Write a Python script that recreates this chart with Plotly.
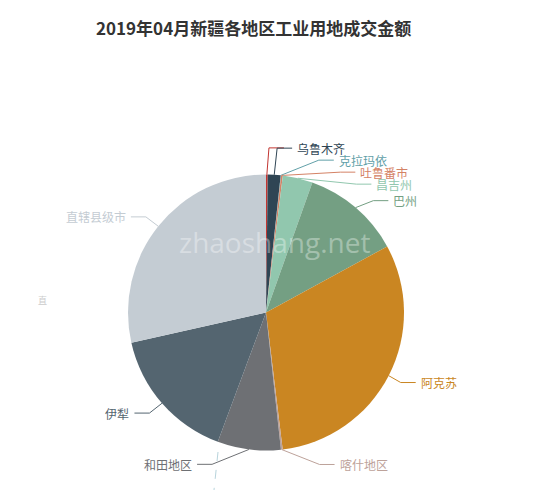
import math

import plotly.graph_objects as go

# 2019年04月 新疆各地区工业用地成交金额 (share of total)
title = "2019年04月新疆各地区工业用地成交金额"
regions = ["", "乌鲁木齐", "克拉玛依", "吐鲁番市", "昌吉州", "巴州",
           "阿克苏", "喀什地区", "和田地区", "伊犁", "直辖县级市"]
amounts = [0.2, 1.5, 0.05, 0.2, 3.5, 11.6, 31.0, 0.2, 7.4, 15.8, 28.5]
colors = ["#c23531", "#2f4554", "#61a0a8", "#d48265", "#91c7ae", "#749f83",
          "#ca8622", "#bda29a", "#6e7074", "#546570", "#c4ccd3"]

W, H = 550, 490
cx, cy, r = 266, 312.5, 138
len1, len2 = 15, 15
label_h = 12


def adjust_side(lst, side):
    # same idea as the echarts pie label overlap avoidance
    lst.sort(key=lambda d: d["y"])

    def shift_up(end, delta):
        for j in range(end, -1, -1):
            lst[j]["y"] -= delta
            if j > 0 and lst[j]["y"] > lst[j - 1]["y"] + lst[j - 1]["h"]:
                break

    def shift_down(start, end, delta):
        for j in range(start, end):
            lst[j]["y"] += delta
            if j > start and j + 1 < end and lst[j + 1]["y"] > lst[j]["y"] + lst[j]["h"]:
                shift_up(j, delta / 2)
                return
        shift_up(end - 1, delta / 2)

    def change_x(part, is_down):
        last_dx = float("inf") if is_down else 0
        for d in part:
            dy = abs(d["y"] - cy)
            if dy < r + len1:
                ddx = math.sqrt((r + len1 + len2) ** 2 - dy ** 2)
            else:
                ddx = abs(d["x"] - cx)
            if is_down and ddx >= last_dx:
                ddx = last_dx - 10
            if not is_down and ddx <= last_dx:
                ddx = last_dx + 10
            d["x"] = cx + ddx * side
            last_dx = ddx

    n = len(lst)
    last_y = 0
    for i in range(n):
        delta = lst[i]["y"] - last_y
        if delta < 0:
            shift_down(i, n, -delta)
        last_y = lst[i]["y"] + lst[i]["h"]
    if H - last_y < 0:
        shift_up(n - 1, last_y - H)

    change_x([d for d in lst if d["y"] < cy], False)
    change_x([d for d in lst if d["y"] >= cy], True)


def label_layout():
    total = sum(amounts)
    items = []
    acc = 0
    for i, v in enumerate(amounts):
        mid = (acc + v / 2) / total * 2 * math.pi
        acc += v
        dx, dy = math.sin(mid), -math.cos(mid)
        side = 1 if dx >= 0 else -1
        x2, y2 = cx + (r + len1) * dx, cy + (r + len1) * dy
        x3 = x2 + side * len2
        # an empty label takes no room
        h = label_h if regions[i] else 0
        items.append(dict(i=i, side=side, h=h,
                          x1=cx + r * dx, y1=cy + r * dy,
                          x=x3 + side * 5, y=y2, dist=x2 - x3))
    right = [d for d in items if d["side"] > 0]
    left = [d for d in items if d["side"] < 0]
    adjust_side(right, 1)
    adjust_side(left, -1)
    return sorted(items, key=lambda d: d["i"])


fig = go.Figure()

fig.add_trace(
    go.Pie(
        labels=[n if n else " " for n in regions],
        values=amounts,
        marker=dict(colors=colors, line=dict(width=0)),
        sort=False,
        direction="clockwise",
        rotation=0,
        textinfo="none",
        hoverinfo="label+percent",
        domain=dict(x=[(cx - r) / W, (cx + r) / W],
                    y=[(H - cy - r) / H, (H - cy + r) / H]),
        showlegend=False,
    )
)

annotations = []
for d in label_layout():
    end_x = d["x"] - d["side"] * 3
    elbow_x = end_x + d["dist"]
    fig.add_trace(
        go.Scatter(
            x=[d["x1"], elbow_x, end_x],
            y=[d["y1"], d["y"], d["y"]],
            mode="lines",
            line=dict(color=colors[d["i"]], width=1),
            hoverinfo="skip",
            showlegend=False,
        )
    )
    if regions[d["i"]]:
        annotations.append(dict(
            x=d["x"], y=d["y"], xref="x", yref="y",
            text=regions[d["i"]], showarrow=False,
            xanchor="left" if d["side"] > 0 else "right", yanchor="middle",
            font=dict(size=12, color=colors[d["i"]], family="Noto Sans CJK SC"),
        ))

annotations.append(dict(
    x=253, y=27, xref="x", yref="y", text="<b>" + title + "</b>",
    showarrow=False, xanchor="center", yanchor="middle",
    font=dict(size=17, color="#333333", family="Noto Sans CJK SC"),
))
annotations.append(dict(
    x=274, y=242, xref="x", yref="y", text="zhaoshang.net",
    showarrow=False, xanchor="center", yanchor="middle",
    font=dict(size=28, color="rgba(255,255,255,0.35)", family="Open Sans"),
))
annotations.append(dict(
    x=42, y=300, xref="x", yref="y", text="直",
    showarrow=False, xanchor="center", yanchor="middle",
    font=dict(size=9, color="#cccccc", family="Noto Sans CJK SC"),
))

fig.update_layout(
    width=W,
    height=H,
    margin=dict(l=0, r=0, t=0, b=0),
    paper_bgcolor="white",
    plot_bgcolor="rgba(0,0,0,0)",
    xaxis=dict(range=[0, W], visible=False, fixedrange=True, domain=[0, 1]),
    yaxis=dict(range=[H, 0], visible=False, fixedrange=True, domain=[0, 1]),
    annotations=annotations,
    shapes=[dict(type="line", xref="x", yref="y", x0=218, y0=452, x1=214, y1=490,
                 line=dict(color="#b8d4dc", width=1, dash="dash"))],
)

fig.write_html(
    "out.html",
    config={"displayModeBar": False},
    post_script="document.body.style.margin='0px';",
)
